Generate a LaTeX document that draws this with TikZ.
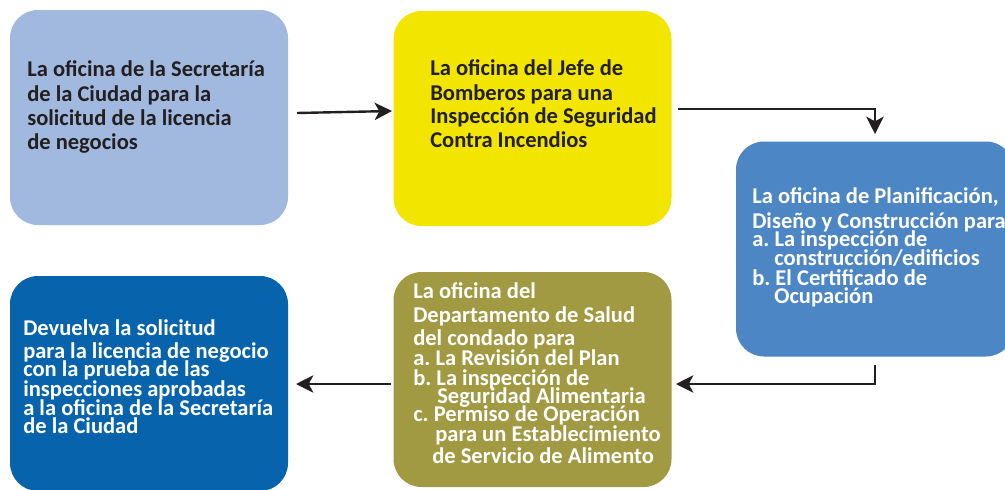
\documentclass[tikz,border=0pt]{standalone}
\usepackage{fontspec}
\setmainfont{Carlito}
\usetikzlibrary{arrows.meta}
\definecolor{cA}{HTML}{A1B9DF}
\definecolor{cB}{HTML}{F2E600}
\definecolor{cC}{HTML}{4D86C4}
\definecolor{cD}{HTML}{A19A42}
\definecolor{cE}{HTML}{0863AD}
\definecolor{dk}{HTML}{231F20}
\frenchspacing
\begin{document}
\begin{tikzpicture}[x=0.75pt,y=-0.75pt,
 box/.style={rounded corners=21pt, inner sep=0pt, outer sep=0pt, minimum width=208.5pt, minimum height=161.25pt},
 ln/.style={anchor=west, inner sep=0pt, text height=0.55em, text depth=0.05em, font=\fontsize{16.9}{19}\selectfont\bfseries},
 arr/.style={draw=dk, line width=1.8pt, -{Stealth[length=13pt,width=13pt,inset=3.5pt]}}
]
\clip (0,0) rectangle (1005,489);
\fill[white] (0,0) rectangle (1005,489);
% boxes
\node[box,fill=cA] (b1) at (149,117.5) {};
\node[box,fill=cB] (b2) at (532.5,118.5) {};
\node[box,fill=cC] (b3) at (875,249) {};
\node[box,fill=cD] (b4) at (532.5,379.5) {};
\node[box,fill=cE] (b5) at (149,383.5) {};
% box 1 text
\begin{scope}[every node/.style={ln,text=dk}]
\node (t1a) at (27,73) {La oficina de la Secretaría};
\node (t1b) at (27,98) {de la Ciudad para la};
\node (t1c) at (27,122) {solicitud de la licencia};
\node (t1d) at (27,146) {de negocios};
% box 2 text
\node (t2a) at (430,72) {La oficina del Jefe de};
\node (t2b) at (430,97) {Bomberos para una};
\node (t2c) at (430,120) {Inspección de Seguridad};
\node (t2d) at (430,144) {Contra Incendios};
\end{scope}
\begin{scope}[every node/.style={ln,text=white}]
% box 3 text
\node (t3a) at (752,200) {La oficina de Planificación,};
\node (t3b) at (752,225) {Diseño y Construcción para};
\node (t3c) at (752,243) {a. La inspección de};
\node (t3d) at (774,262) {construcción/edificios};
\node (t3e) at (752,282) {b. El Certificado de};
\node (t3f) at (774,300) {Ocupación};
% box 4 text
\node (t4a) at (413,295) {La oficina del};
\node (t4b) at (413,319) {Departamento de Salud};
\node (t4c) at (413,342) {del condado para};
\node (t4d) at (413,362) {a. La Revisión del Plan};
\node (t4e) at (413,382) {b. La inspección de};
\node (t4f) at (437,400) {Seguridad Alimentaria};
\node (t4g) at (413,418) {c. Permiso de Operación};
\node (t4h) at (435,438) {para un Establecimiento};
\node (t4i) at (432,460) {de Servicio de Alimento};
% box 5 text
\node (t5a) at (23,332) {Devuelva la solicitud};
\node (t5b) at (23,355) {para la licencia de negocio};
\node (t5c) at (23,373) {con la prueba de las};
\node (t5d) at (23,393) {inspecciones aprobadas};
\node (t5e) at (23,412) {a la oficina de la Secretaría};
\node (t5f) at (23,430) {de la Ciudad};
\end{scope}
% connectors
\coordinate (a1s) at (297,113);
\coordinate (a1e) at (392,111);
\coordinate (a2s) at (678,109);
\coordinate (a2c) at (875,109);
\coordinate (a2e) at (875,134);
\coordinate (a3s) at (875,365);
\coordinate (a3c) at (875,384);
\coordinate (a3e) at (676,384);
\coordinate (a4s) at (391,384);
\coordinate (a4e) at (296,384);
\draw[arr] (a1s) -- (a1e);
\draw[arr] (a2s) -- (a2c) -- (a2e);
\draw[arr] (a3s) -- (a3c) -- (a3e);
\draw[arr] (a4s) -- (a4e);
\end{tikzpicture}
\end{document}
